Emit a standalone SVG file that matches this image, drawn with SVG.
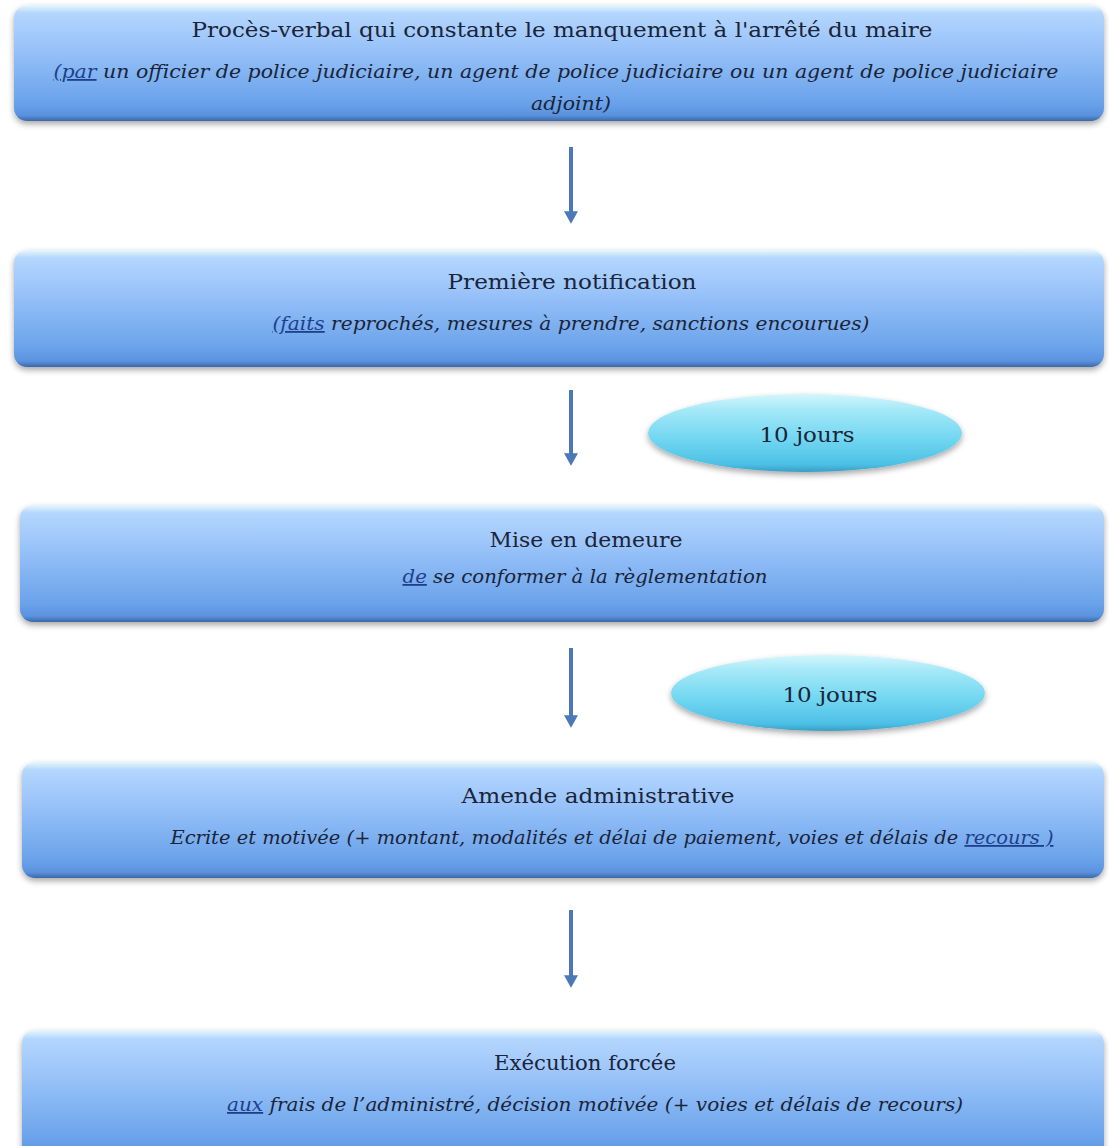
<svg xmlns="http://www.w3.org/2000/svg" width="1109" height="1146" viewBox="0 0 1109 1146">
<defs>
<linearGradient id="boxg" x1="0" y1="0" x2="0" y2="1">
<stop offset="0" stop-color="#e8f7fc"/>
<stop offset="0.07" stop-color="#b3d6fd"/>
<stop offset="0.3" stop-color="#9fc7fb"/>
<stop offset="0.85" stop-color="#69a2ea"/>
<stop offset="0.95" stop-color="#5a92df"/>
<stop offset="1" stop-color="#3c68a6"/>
</linearGradient>
<linearGradient id="ellg" x1="0" y1="0" x2="0" y2="1">
<stop offset="0" stop-color="#d4f6fc"/>
<stop offset="0.2" stop-color="#a5e9f8"/>
<stop offset="0.6" stop-color="#6fd5f0"/>
<stop offset="0.9" stop-color="#4dc0e6"/>
<stop offset="1" stop-color="#3a9ec4"/>
</linearGradient>
<filter id="sh" x="-5%" y="-20%" width="110%" height="150%">
<feGaussianBlur in="SourceAlpha" stdDeviation="3"/>
<feOffset dy="3" result="b"/>
<feComponentTransfer><feFuncA type="linear" slope="0.35"/></feComponentTransfer>
<feMerge><feMergeNode/><feMergeNode in="SourceGraphic"/></feMerge>
</filter>
<marker id="ah" viewBox="0 0 10 10" refX="2" refY="5" markerWidth="3.5" markerHeight="3.5" orient="auto" markerUnits="strokeWidth">
<path d="M0,0 L9,5 L0,10 Z" fill="#4a78b8"/>
</marker>
</defs>
<style>
.box{fill:url(#boxg);filter:url(#sh);}
.ell{fill:url(#ellg);filter:url(#sh);}
.t{font-family:"DejaVu Serif","Liberation Serif",serif;font-size:21px;fill:#1b2438;text-anchor:middle;}
.s{font-family:"DejaVu Serif","Liberation Serif",serif;font-size:18px;font-style:italic;fill:#1b2438;text-anchor:middle;}
.u{text-decoration:underline;fill:#1e3f8a;}
.arr{stroke:#4a78b8;stroke-width:4;fill:none;}
</style>
<rect width="1109" height="1146" fill="#ffffff"/>
<g id="connectors">
<path class="arr" d="M571,147 V214" marker-end="url(#ah)"/>
<path class="arr" d="M571,390 V456" marker-end="url(#ah)"/>
<path class="arr" d="M571,648 V718" marker-end="url(#ah)"/>
<path class="arr" d="M571,910 V978" marker-end="url(#ah)"/>
</g>
<g id="n1">
<rect class="box" x="14" y="5" width="1090" height="116" rx="13"/>
<text class="t" x="562" y="37" textLength="741" lengthAdjust="spacingAndGlyphs">Procès-verbal qui constante le manquement à l'arrêté du maire</text>
<text class="s" x="556" y="78" textLength="1005" lengthAdjust="spacingAndGlyphs"><tspan class="u">(par</tspan> un officier de police judiciaire, un agent de police judiciaire ou un agent de police judiciaire</text>
<text class="s" x="571" y="110" textLength="80" lengthAdjust="spacingAndGlyphs">adjoint)</text>
</g>
<g id="n2">
<rect class="box" x="14" y="250" width="1090" height="117" rx="13"/>
<text class="t" x="572" y="289" textLength="249" lengthAdjust="spacingAndGlyphs">Première notification</text>
<text class="s" x="571" y="330" textLength="597" lengthAdjust="spacingAndGlyphs"><tspan class="u">(faits</tspan> reprochés, mesures à prendre, sanctions encourues)</text>
</g>
<g id="e1">
<ellipse class="ell" cx="805" cy="433" rx="157" ry="39"/>
<text class="t" x="807" y="442" textLength="95" lengthAdjust="spacingAndGlyphs">10 jours</text>
</g>
<g id="n3">
<rect class="box" x="20" y="505" width="1084" height="117" rx="13"/>
<text class="t" x="586" y="547" textLength="193" lengthAdjust="spacingAndGlyphs">Mise en demeure</text>
<text class="s" x="585" y="583" textLength="365" lengthAdjust="spacingAndGlyphs"><tspan class="u">de</tspan> se conformer à la règlementation</text>
</g>
<g id="e2">
<ellipse class="ell" cx="828" cy="693" rx="157" ry="38"/>
<text class="t" x="830" y="702" textLength="95" lengthAdjust="spacingAndGlyphs">10 jours</text>
</g>
<g id="n4">
<rect class="box" x="22" y="762" width="1082" height="116" rx="13"/>
<text class="t" x="598" y="803" textLength="273" lengthAdjust="spacingAndGlyphs">Amende administrative</text>
<text class="s" x="612" y="844" textLength="883" lengthAdjust="spacingAndGlyphs">Ecrite et motivée (+ montant, modalités et délai de paiement, voies et délais de <tspan class="u">recours )</tspan></text>
</g>
<g id="n5">
<rect class="box" x="22" y="1030" width="1082" height="130" rx="13"/>
<text class="t" x="585" y="1070" textLength="182" lengthAdjust="spacingAndGlyphs">Exécution forcée</text>
<text class="s" x="595" y="1111" textLength="736" lengthAdjust="spacingAndGlyphs"><tspan class="u">aux</tspan> frais de l’administré, décision motivée (+ voies et délais de recours)</text>
</g>
</svg>
